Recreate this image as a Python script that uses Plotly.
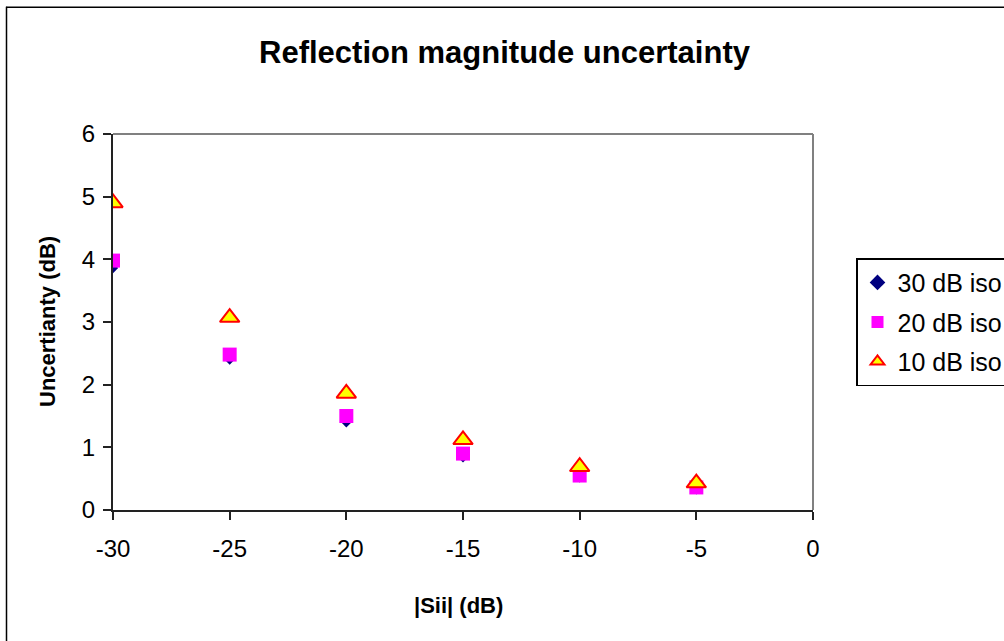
import plotly.graph_objects as go

# Data
sii_db = [-30, -25, -20, -15, -10, -5]
iso30 = [3.86, 2.40, 1.40, 0.84, 0.52, 0.33]
iso20 = [3.98, 2.48, 1.50, 0.90, 0.55, 0.36]
iso10 = [4.90, 3.07, 1.86, 1.12, 0.69, 0.43]
series_names = ["30 dB iso", "20 dB iso", "10 dB iso"]
x_ticks = [-30, -25, -20, -15, -10, -5, 0]
y_ticks = [0, 1, 2, 3, 4, 5, 6]

W, H = 1004, 641
L, R, T, B = 113, 813, 133.5, 510.5  # plot area pixel bounds

font_family = "Liberation Sans, Arial, sans-serif"

fig = go.Figure()
fig.add_trace(go.Scatter(
    x=sii_db, y=iso30, mode="markers", name=series_names[0], legendgroup="a",
    marker=dict(symbol="diamond", size=8, color="#000080", line=dict(width=0)),
))
fig.add_trace(go.Scatter(
    x=sii_db, y=iso20, mode="markers", name=series_names[1], legendgroup="b",
    marker=dict(symbol="square", size=14, color="#FF00FF", line=dict(width=0)),
))
fig.add_trace(go.Scatter(
    x=sii_db, y=iso10, mode="markers", name=series_names[2], legendgroup="c",
    marker=dict(symbol="triangle-up", size=17, color="#FFFF00",
                line=dict(width=2, color="#FF0000")),
))

pw = R - L
ph = B - T

def px_x(p):
    return (p - L) / pw

def px_y(p):
    return (B - p) / ph

shapes = [
    # plot area border (grey, top and right)
    dict(type="line", xref="paper", yref="paper", x0=0, x1=1, y0=1, y1=1,
         line=dict(color="#808080", width=2), layer="below"),
    dict(type="line", xref="paper", yref="paper", x0=1, x1=1, y0=0, y1=1,
         line=dict(color="#808080", width=2), layer="below"),
    # outer chart border (left and top visible)
    dict(type="line", xref="paper", yref="paper", x0=px_x(6.5), x1=px_x(6.5),
         y0=px_y(6), y1=px_y(645), line=dict(color="#000000", width=1.5)),
    dict(type="line", xref="paper", yref="paper", x0=px_x(6), x1=px_x(1010),
         y0=px_y(6.5), y1=px_y(6.5), line=dict(color="#000000", width=1.5)),
]

annotations = [
    dict(text="<b>Uncertianty (dB)</b>", xref="paper", yref="paper",
         x=px_x(47), y=px_y(322), textangle=-90, showarrow=False,
         font=dict(size=22, color="black", family=font_family),
         xanchor="center", yanchor="middle"),
    dict(text="<b>|Sii| (dB)</b>", xref="paper", yref="paper",
         x=px_x(458), y=px_y(606), showarrow=False,
         font=dict(size=22, color="black", family=font_family),
         xanchor="center", yanchor="middle"),
]

fig.update_layout(
    width=W, height=H,
    margin=dict(l=L, r=W - R, t=T, b=H - B, pad=0, autoexpand=False),
    paper_bgcolor="white", plot_bgcolor="white",
    font=dict(family=font_family, size=22, color="black"),
    title=dict(text="<b>Reflection magnitude uncertainty</b>",
               x=504.5 / W, xref="container", xanchor="center",
               y=1 - 52 / H, yref="container", yanchor="middle",
               font=dict(size=31, color="black", family=font_family)),
    xaxis=dict(range=[-30, 0], tickvals=x_ticks, ticktext=[str(v) for v in x_ticks],
               showgrid=False, zeroline=False, showline=True,
               linecolor="#222222", linewidth=2, ticks="outside", ticklen=8,
               tickwidth=1.5, tickcolor="#222222", tickfont=dict(size=24),
               ticklabelstandoff=8, fixedrange=True),
    yaxis=dict(range=[0, 6], tickvals=y_ticks, ticktext=[str(v) for v in y_ticks],
               showgrid=False, zeroline=False, showline=True,
               linecolor="#222222", linewidth=2, ticks="outside", ticklen=8,
               tickwidth=1.5, tickcolor="#222222", tickfont=dict(size=24),
               ticklabelstandoff=3, fixedrange=True),
    legend=dict(x=px_x(856), y=px_y(258), xanchor="left", yanchor="top",
                bordercolor="#000000", borderwidth=1.5, bgcolor="white",
                font=dict(size=25, color="black"),
                traceorder="grouped", tracegroupgap=4,
                itemsizing="constant"),
    shapes=shapes,
    annotations=annotations,
    showlegend=True,
)

fig.write_html("out.html", config={"displayModeBar": False},
               post_script="document.body.style.margin='0';")
